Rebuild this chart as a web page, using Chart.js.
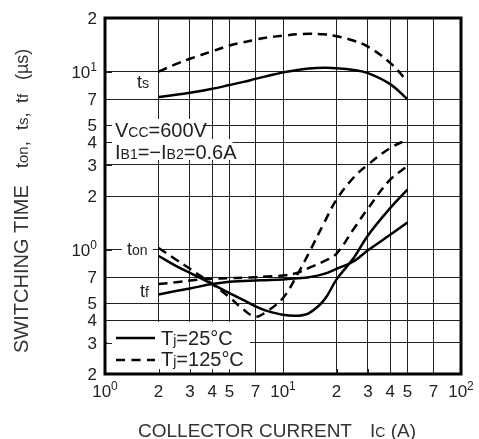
<!DOCTYPE html>
<html>
<head>
<meta charset="utf-8">
<title>Switching time vs collector current</title>
<script src="https://cdn.jsdelivr.net/npm/chart.js"></script>
<style>
  body { margin: 0; background: #fff; }
</style>
</head>
<body>
<canvas id="chart" width="479" height="439"></canvas>
<script>
// collector current Ic (A), shared by every curve
const current = [2, 2.5, 3, 4, 5, 6, 7, 8, 10, 12, 14, 17, 20, 25, 30, 40, 50];

// switching times in us, Tj = 25 C (solid)
const ts25  = [7.2, 7.4, 7.6, 8.0, 8.4, 8.75, 9.1, 9.4, 9.9, 10.2, 10.4, 10.5, 10.45, 10.2, 9.8, 8.5, 7.0];
const ton25 = [0.92, 0.81, 0.74, 0.64, 0.57, 0.52, 0.48, 0.455, 0.43, 0.425, 0.44, 0.52, 0.68, 0.9, 1.2, 1.71, 2.17];
const tf25  = [0.56, 0.585, 0.605, 0.64, 0.66, 0.665, 0.67, 0.673, 0.68, 0.69, 0.70, 0.73, 0.78, 0.86, 0.99, 1.21, 1.42];

// Tj = 125 C (dashed)
const ts125  = [10.0, 11.0, 11.8, 13.0, 14.0, 14.6, 15.1, 15.5, 15.9, 16.2, 16.3, 16.2, 15.8, 14.9, 13.8, 11.2, 8.8];
const ton125 = [1.02, 0.88, 0.78, 0.64, 0.54, 0.46, 0.42, 0.445, 0.535, 0.72, 0.96, 1.41, 1.91, 2.55, 3.0, 3.72, 4.15];
const tf125  = [0.64, 0.655, 0.67, 0.685, 0.69, 0.695, 0.70, 0.705, 0.715, 0.74, 0.79, 0.86, 0.95, 1.31, 1.7, 2.47, 2.94];

// tick values and their labels; a '^' marks the exponent
const xTicks = [1, 2, 3, 4, 5, 7, 10, 20, 30, 40, 50, 70, 100];
const xTickLabels = ['10^0', '2', '3', '4', '5', '7', '10^1', '2', '3', '4', '5', '7', '10^2'];
const yTicks = [0.2, 0.3, 0.4, 0.5, 0.7, 1, 2, 3, 4, 5, 7, 10, 20];
const yTickLabels = ['2', '3', '4', '5', '7', '10^0', '2', '3', '4', '5', '7', '10^1', '2'];

const FONT = '"Liberation Sans", Arial, sans-serif';

function pts(vals) {
    return current.map((c, i) => ({ x: c, y: vals[i] }));
}

function line(vals, dashed) {
    return {
        data: pts(vals),
        borderColor: '#000',
        borderWidth: 2.5,
        borderDash: dashed ? [9, 6] : [],
        pointRadius: 0,
        tension: 0.4,
        fill: false
    };
}

// text pieces: [text, size, raise]
function richWidth(ctx, parts) {
    let w = 0;
    parts.forEach(([t, s]) => {
        ctx.font = s + 'px ' + FONT;
        w += ctx.measureText(t).width;
    });
    return w;
}

function richText(ctx, x, y, parts, color) {
    ctx.save();
    ctx.fillStyle = color || '#222';
    ctx.textBaseline = 'alphabetic';
    ctx.textAlign = 'left';
    parts.forEach(([t, s, up]) => {
        ctx.font = s + 'px ' + FONT;
        ctx.fillText(t, x, y - (up || 0));
        x += ctx.measureText(t).width;
    });
    ctx.restore();
    return x;
}

function tickParts(label) {
    const [base, exp] = label.split('^');
    const parts = [[base, 17]];
    if (exp) parts.push([exp, 12, 7]);
    return parts;
}

const vccText = [['V', 20], ['CC', 14], ['=600V', 20]];
const ibText = [['I', 20], ['B1', 14], ['=−I', 20], ['B2', 14], ['=0.6A', 20]];

const overlay = {
    id: 'overlay',
    beforeDatasetsDraw(chart) {
        const { ctx, chartArea: a, scales } = chart;
        ctx.save();
        ctx.fillStyle = '#fff';
        // boxes that hide the grid behind the notes
        ctx.fillRect(107, 119, richWidth(ctx, vccText) + 4, 20);
        ctx.fillRect(107, 139, richWidth(ctx, ibText) + 4, 21);
        ctx.fillRect(122, 242, 31, 16);
        ctx.fillRect(107, 322, 143, a.bottom - 323);

        // short inner ticks
        ctx.strokeStyle = '#222';
        ctx.lineWidth = 1;
        ctx.beginPath();
        yTicks.forEach(v => {
            const py = Math.round(scales.y.getPixelForValue(v)) + 0.5;
            ctx.moveTo(a.left, py);
            ctx.lineTo(a.left + 7, py);
        });
        xTicks.forEach(v => {
            const px = Math.round(scales.x.getPixelForValue(v)) + 0.5;
            ctx.moveTo(px, a.bottom);
            ctx.lineTo(px, a.bottom - 5);
        });
        ctx.stroke();
        ctx.restore();

        // curve labels and conditions
        richText(ctx, 137, 88, [['t', 18], ['s', 14]]);
        richText(ctx, 127, 255, [['t', 18], ['on', 14]]);
        richText(ctx, 140, 297, [['t', 18], ['f', 14]]);
        richText(ctx, 115, 137, vccText);
        richText(ctx, 115, 159, ibText);

        // legend
        ctx.save();
        ctx.strokeStyle = '#000';
        ctx.lineWidth = 2.5;
        ctx.beginPath();
        ctx.moveTo(116, 338);
        ctx.lineTo(155, 338);
        ctx.stroke();
        ctx.setLineDash([9, 6.5]);
        ctx.beginPath();
        ctx.moveTo(116, 360);
        ctx.lineTo(155, 360);
        ctx.stroke();
        ctx.restore();
        richText(ctx, 161, 345, [['T', 20], ['j', 14], ['=25°C', 20]]);
        richText(ctx, 161, 366, [['T', 20], ['j', 14], ['=125°C', 20]]);
    },
    afterDatasetsDraw(chart) {
        const { ctx, chartArea: a } = chart;
        ctx.save();
        ctx.strokeStyle = '#000';
        ctx.lineWidth = 3;
        ctx.strokeRect(a.left, a.top, a.right - a.left, a.bottom - a.top);
        ctx.restore();
    },
    afterDraw(chart) {
        const { ctx, chartArea: a, scales } = chart;

        // tick labels with raised exponents, placed from the scales
        xTicks.forEach((v, i) => {
            const parts = tickParts(xTickLabels[i]);
            const px = scales.x.getPixelForValue(v);
            richText(ctx, px - richWidth(ctx, parts) / 2, a.bottom + 23, parts);
        });
        yTicks.forEach((v, i) => {
            const parts = tickParts(yTickLabels[i]);
            const py = scales.y.getPixelForValue(v);
            richText(ctx, a.left - 8 - richWidth(ctx, parts), py + 6, parts);
        });

        // axis titles
        richText(ctx, 138, 437, [['COLLECTOR CURRENT', 19]], '#333');
        richText(ctx, 370, 437, [['I', 19], ['C', 14], [' (A)', 19]], '#333');
        ctx.save();
        ctx.translate(28, 353);
        ctx.rotate(-Math.PI / 2);
        richText(ctx, 0, 0, [['SWITCHING TIME', 20]], '#333');
        richText(ctx, 185, 0, [['t', 18], ['on', 15], [',', 18]], '#333');
        richText(ctx, 223, 0, [['t', 18], ['s', 15], [',', 18]], '#333');
        richText(ctx, 250, 0, [['t', 18], ['f', 15]], '#333');
        richText(ctx, 273, 0, [['(µs)', 18]], '#333');
        ctx.restore();
    }
};

const ctx = document.getElementById('chart').getContext('2d');
const chart = new Chart(ctx, {
    type: 'line',
    data: {
        datasets: [
            line(ts25, false), line(ton25, false), line(tf25, false),
            line(ts125, true), line(ton125, true), line(tf125, true)
        ]
    },
    options: {
        responsive: false,
        animation: false,
        devicePixelRatio: 1,
        layout: { padding: { left: 0, top: 18, right: 18, bottom: 0 } },
        plugins: { legend: { display: false }, tooltip: { enabled: false } },
        scales: {
            x: {
                type: 'logarithmic',
                min: 1,
                max: 100,
                afterBuildTicks: s => { s.ticks = xTicks.map(v => ({ value: v })); },
                afterFit: s => { s.height = 65; },
                grid: { color: '#222', lineWidth: 1, drawTicks: false },
                border: { display: false },
                ticks: { display: false }
            },
            y: {
                type: 'logarithmic',
                min: 0.2,
                max: 20,
                afterBuildTicks: s => { s.ticks = yTicks.map(v => ({ value: v })); },
                afterFit: s => { s.width = 105; },
                grid: { color: '#222', lineWidth: 1, drawTicks: false },
                border: { display: false },
                ticks: { display: false }
            }
        }
    },
    plugins: [overlay]
});
</script>
</body>
</html>
